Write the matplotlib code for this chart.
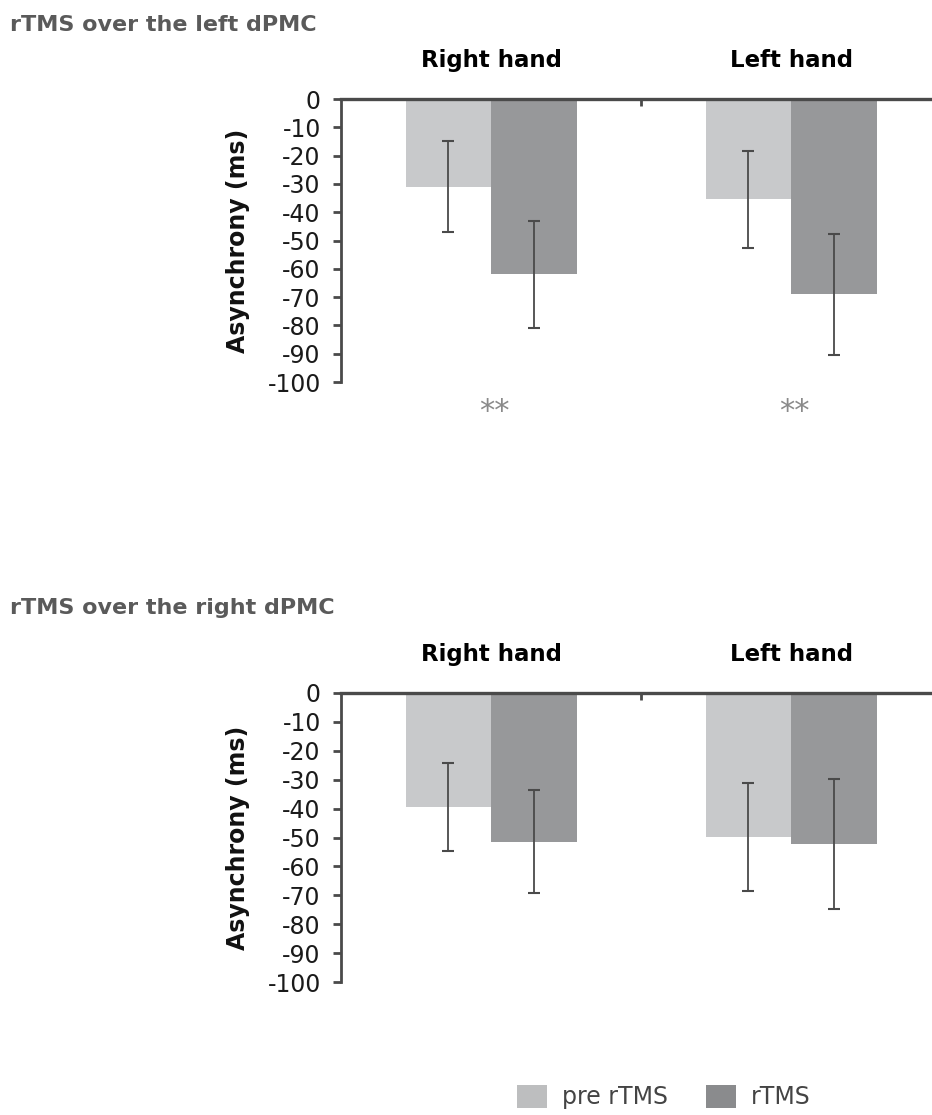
import matplotlib
matplotlib.use('Agg')

import matplotlib.pyplot as plt
from matplotlib.patches import Patch

hands = ['Right hand', 'Left hand']
conditions = ['pre rTMS', 'rTMS']
panel_titles = ['rTMS over the left dPMC', 'rTMS over the right dPMC']

# mean asynchrony (ms) per panel, [pre rTMS, rTMS] for each hand
left_pre = [-31, -35.5]
left_rtms = [-62, -69]
left_pre_err = [16, 17.3]
left_rtms_err = [19, 21.3]

right_pre = [-39.5, -49.8]
right_rtms = [-51.5, -52.2]
right_pre_err = [15.2, 18.7]
right_rtms_err = [17.8, 22.4]

stars_left = ['**', '**']
stars_right = ['', '']
yticks = list(range(0, -101, -10))

light = '#c8c9cb'
dark = '#97989a'
axis_col = '#4a4a4a'

W, H = 932, 1115
fig = plt.figure(figsize=(W / 100, H / 100), dpi=100)

panels = [
    (panel_titles[0], left_pre, left_rtms, left_pre_err, left_rtms_err, stars_left, 99, 382, 31),
    (panel_titles[1], right_pre, right_rtms, right_pre_err, right_rtms_err, stars_right, 693, 982, 614),
]

bw = 0.285
x = [0, 1]
for title, pre, rt, pe, re_, stars, ytop, ybot, tbase in panels:
    ax = fig.add_axes([341 / W, 1 - ybot / H, 600 / W, (ybot - ytop) / H])
    ax.bar([i - bw / 2 for i in x], pre, bw, color=light, zorder=2)
    ax.bar([i + bw / 2 for i in x], rt, bw, color=dark, zorder=2)
    ax.errorbar([i - bw / 2 for i in x], pre, yerr=pe, fmt='none', ecolor=axis_col,
                elinewidth=1.3, capsize=4, capthick=1.5, zorder=3)
    ax.errorbar([i + bw / 2 for i in x], rt, yerr=re_, fmt='none', ecolor=axis_col,
                elinewidth=1.3, capsize=4, capthick=1.5, zorder=3)
    ax.set_xlim(-0.5, 1.5)
    ax.set_ylim(-100, 0)
    ax.set_yticks(yticks)
    ax.set_yticklabels([str(t) for t in yticks], fontsize=17, color='#1a1a1a')
    ax.set_xticks([0.5])
    ax.set_xticklabels([])
    ax.xaxis.set_ticks_position('top')
    ax.tick_params(axis='x', direction='in', length=5, width=2, color=axis_col)
    ax.tick_params(axis='y', direction='out', length=5.5, width=2, color=axis_col, pad=9)
    for s in ['bottom', 'right']:
        ax.spines[s].set_visible(False)
    ax.spines['left'].set_color(axis_col)
    ax.spines['left'].set_linewidth(2)
    ax.spines['top'].set_color(axis_col)
    ax.spines['top'].set_linewidth(2.4)
    ax.spines['top'].set_zorder(4)
    ax.text(-0.172, 0.5, 'Asynchrony (ms)', transform=ax.transAxes, rotation=90,
            ha='center', va='center', fontsize=17, fontweight='bold', color='#111111')
    for i, h in enumerate(hands):
        ax.annotate(h, xy=(x[i], 1), xycoords=('data', 'axes fraction'),
                    xytext=(0, 23), textcoords='offset points', ha='center',
                    va='baseline', fontsize=16.5, fontweight='bold', color='black',
                    annotation_clip=False)
    for i, s in enumerate(stars):
        if s:
            ax.text(x[i] + 0.01, -113.5, s, ha='center', va='baseline', fontsize=22,
                    color='#8a8a8a', clip_on=False)
    fig.text(10 / W, 1 - tbase / H, title, ha='left', va='baseline', fontsize=16,
             fontweight='bold', color='#5a5a5a')

handles = [Patch(facecolor='#bdbebf', edgecolor='none'),
           Patch(facecolor='#8a8b8d', edgecolor='none')]
fig.legend(handles, conditions, loc='center left', bbox_to_anchor=(517 / W, 18 / H),
           ncol=2, frameon=False, fontsize=17, handlelength=1.27, handleheight=1.15,
           handletextpad=0.64, columnspacing=1.6, borderpad=0, borderaxespad=0,
           labelcolor='#444444')

plt.savefig('out.png', dpi=100)
